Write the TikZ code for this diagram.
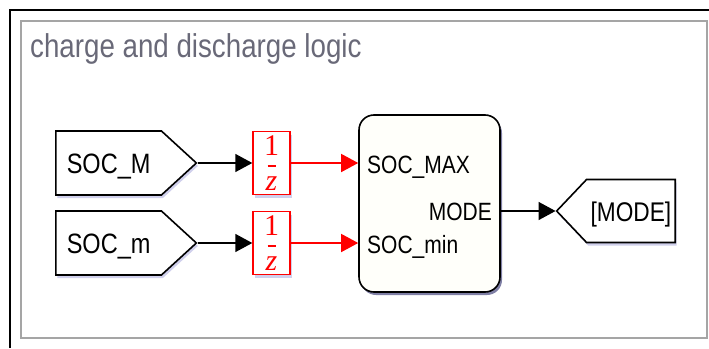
\documentclass[tikz,border=0pt]{standalone}
\usepackage[no-math]{fontspec}
\setmainfont{Liberation Sans}[FakeStretch=0.84]
\newfontfamily\delayfont{Liberation Serif}
\usetikzlibrary{shapes.symbols,arrows.meta,shadows,calc}

\definecolor{titlegray}{RGB}{105,105,120}
\definecolor{framegray}{RGB}{165,165,165}
\definecolor{shadowblue}{RGB}{120,120,200}

\begin{document}
\begin{tikzpicture}[x=1pt,y=-1pt,
		>={Triangle[length=17pt,width=18pt]},
		blockline/.style={draw=black, line width=1.6pt},
		blueshadow/.style={drop shadow={shadow xshift=1.5pt, shadow yshift=-3pt, fill=shadowblue, opacity=0.35}},
		srcblock/.style={blockline, blueshadow, shape=signal, signal to=east, signal pointer angle=85, fill=white,
			minimum height=64pt, inner xsep=11pt, inner ysep=0pt, text height=20pt, text depth=0pt,
			font=\fontsize{28}{30}\selectfont},
		gotoblock/.style={blockline, blueshadow, shape=signal, signal to=west, signal pointer angle=93, fill=white,
			minimum height=63pt, inner xsep=4pt, inner ysep=0pt, text height=20pt, text depth=0pt,
			font=\fontsize{27}{30}\selectfont},
		delayblock/.style={draw=red, line width=1.4pt, blueshadow, fill=white, minimum width=37pt, minimum height=63pt,
			inner sep=0pt, align=center, text=red, font=\delayfont\fontsize{30}{35}\selectfont},
		logicblock/.style={blockline, rounded corners=15pt, fill=white!98!yellow, minimum width=141pt, minimum height=177pt,
			drop shadow={shadow xshift=2pt, shadow yshift=-3pt, fill=black!70!blue, opacity=0.5}},
		port/.style={inner sep=0pt, font=\fontsize{25}{28}\selectfont},
		sig/.style={->, line width=1.4pt},
		redsig/.style={sig, red}]
	
	\useasboundingbox (0,0) rectangle (709,348);
	
	% frames and title
	\draw[black, line width=2pt] (10,348) -- (10,10) -- (709,10);
	\draw[framegray, line width=2pt] (21,338) -- (21,21) -- (707,21) -- (707,338) -- cycle;
	\node[anchor=base west, inner sep=0pt, text=titlegray, font=\fontsize{33}{36}\selectfont] (title) at (30,57) {charge and discharge logic};
	
	% main block
	\node[logicblock] (logic) at (429.5,203.5) {};
	\node[port, anchor=base east] (pMODE) at (492,220) {MODE};
	
	% goto block
	\node[gotoblock, anchor=east] (goto) at (676,211) {[MODE]};
	\draw[sig] (logic.east |- goto.west) -- (goto.west);
	
	% inputs and unit delays
	\foreach \n/\y/\src/\prt in {1/163/SOC\_M/SOC\_MAX, 2/243/SOC\_m/SOC\_min} {
		\node[srcblock, anchor=west] (src\n) at (55,\y) {\src};
		\node[delayblock] (d\n) at (271.5,\y) {1\\\itshape z};
		\draw[red, line width=1.6pt] ($(d\n.center)+(-4,3)$) -- ++(8,0);
		\node[port, anchor=base west] (p\n) at (367,\y+10.5) {\prt};
		\draw[sig] (src\n.east) -- (d\n.west);
		\draw[redsig] (d\n.east) -- (d\n.east -| logic.west);
	}
	
\end{tikzpicture}
\end{document}
